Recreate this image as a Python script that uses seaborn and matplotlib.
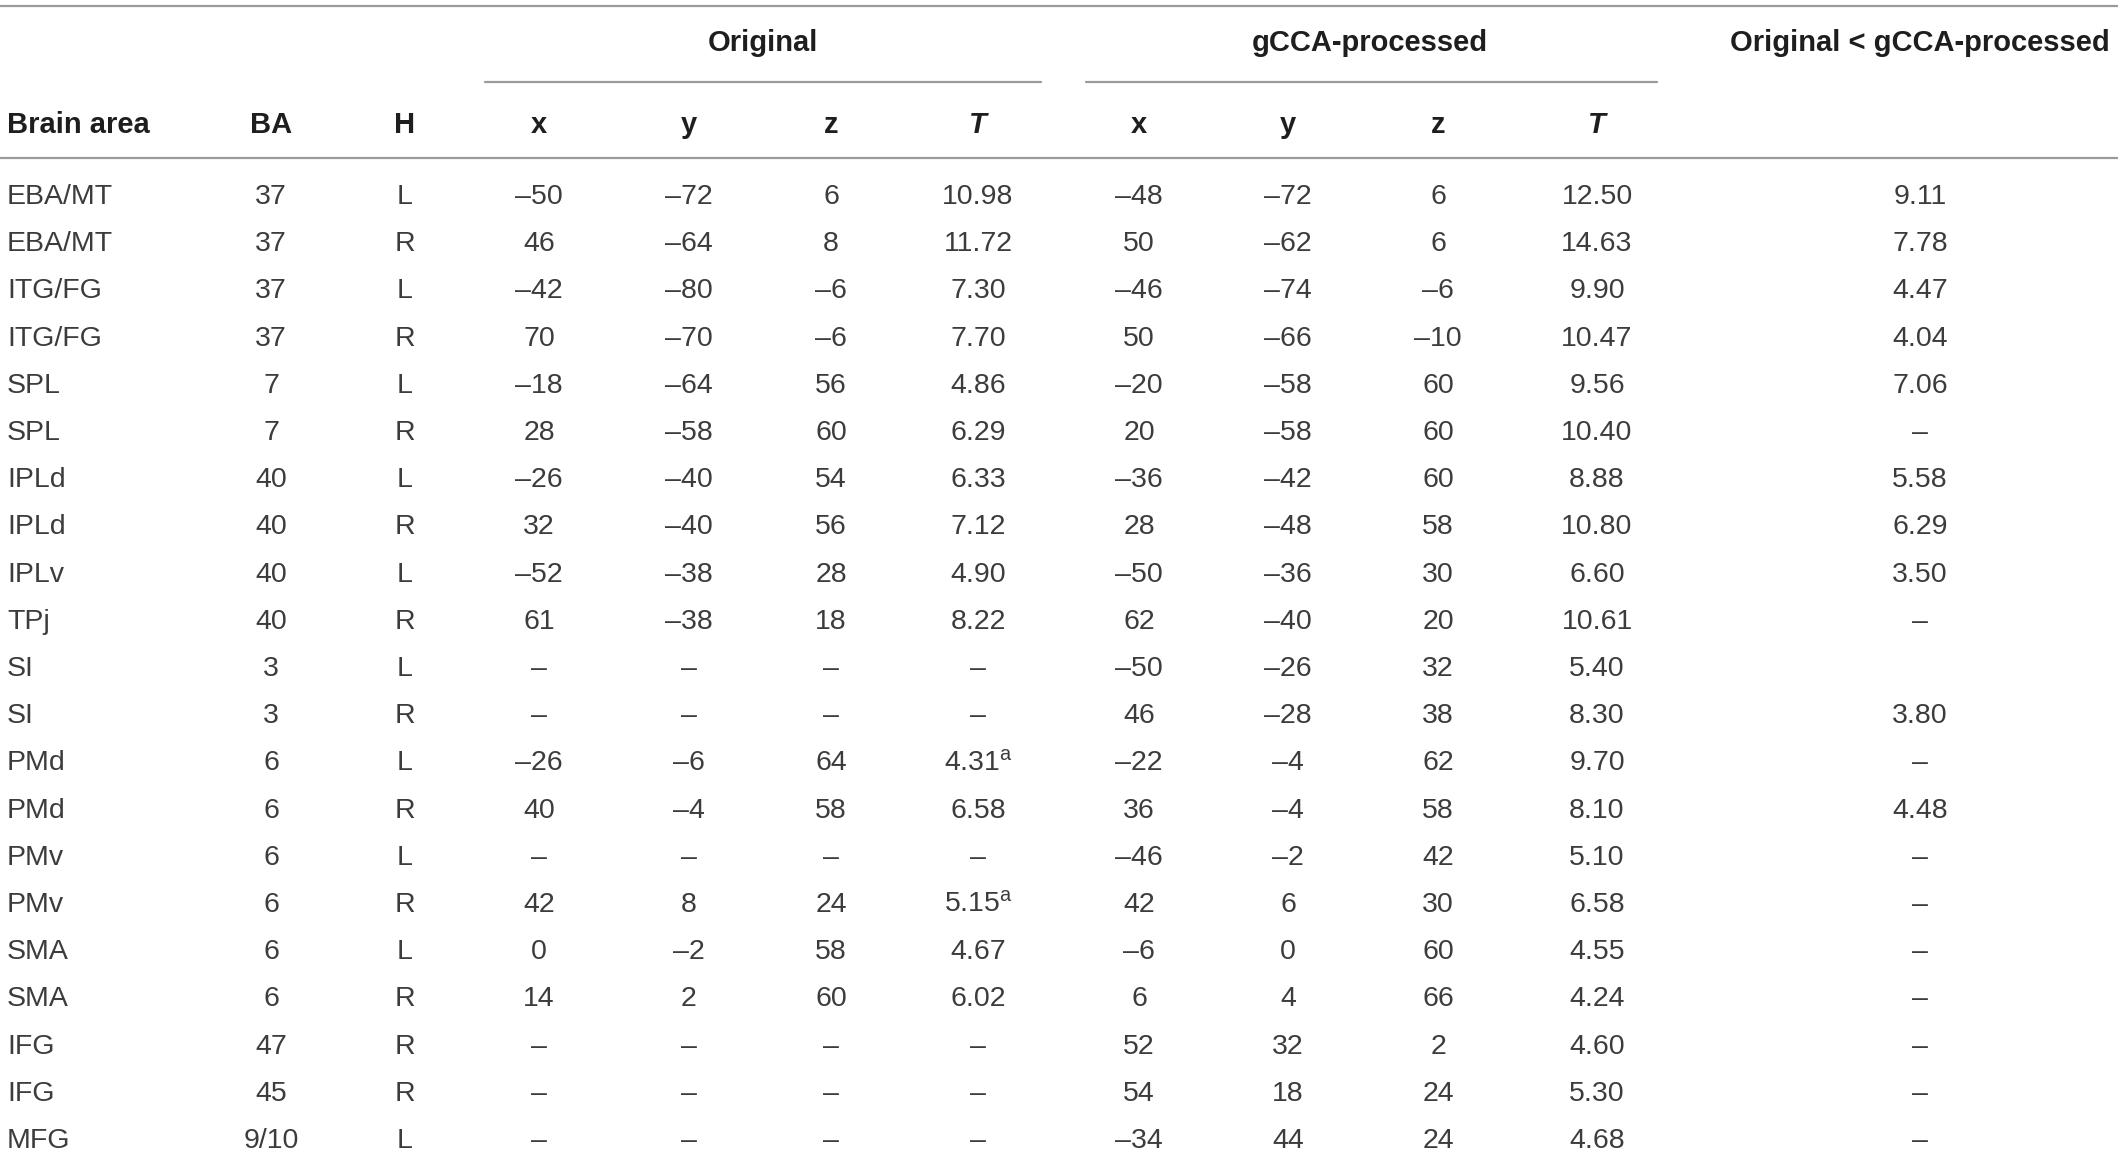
import matplotlib.pyplot as plt
import seaborn as sns

# table content
areas = ["EBA/MT", "EBA/MT", "ITG/FG", "ITG/FG", "SPL", "SPL", "IPLd", "IPLd", "IPLv", "TPj",
         "SI", "SI", "PMd", "PMd", "PMv", "PMv", "SMA", "SMA", "IFG", "IFG", "MFG"]
ba = ["37", "37", "37", "37", "7", "7", "40", "40", "40", "40",
      "3", "3", "6", "6", "6", "6", "6", "6", "47", "45", "9/10"]
hemi = ["L", "R", "L", "R", "L", "R", "L", "R", "L", "R",
        "L", "R", "L", "R", "L", "R", "L", "R", "R", "R", "L"]

orig_x = [-50, 46, -42, 70, -18, 28, -26, 32, -52, 61, None, None, -26, 40, None, 42, 0, 14, None, None, None]
orig_y = [-72, -64, -80, -70, -64, -58, -40, -40, -38, -38, None, None, -6, -4, None, 8, -2, 2, None, None, None]
orig_z = [6, 8, -6, -6, 56, 60, 54, 56, 28, 18, None, None, 64, 58, None, 24, 58, 60, None, None, None]
orig_t = [10.98, 11.72, 7.30, 7.70, 4.86, 6.29, 6.33, 7.12, 4.90, 8.22, None, None, 4.31, 6.58, None, 5.15,
          4.67, 6.02, None, None, None]
orig_t_note = [12, 15]  # rows carrying superscript a

gcca_x = [-48, 50, -46, 50, -20, 20, -36, 28, -50, 62, -50, 46, -22, 36, -46, 42, -6, 6, 52, 54, -34]
gcca_y = [-72, -62, -74, -66, -58, -58, -42, -48, -36, -40, -26, -28, -4, -4, -2, 6, 0, 4, 32, 18, 44]
gcca_z = [6, 6, -6, -10, 60, 60, 60, 58, 30, 20, 32, 38, 62, 58, 42, 30, 60, 66, 2, 24, 24]
gcca_t = [12.50, 14.63, 9.90, 10.47, 9.56, 10.40, 8.88, 10.80, 6.60, 10.61, 5.40, 8.30, 9.70, 8.10, 5.10,
          6.58, 4.55, 4.24, 4.60, 5.30, 4.68]

# "" = blank cell, None = dash
contrast_t = [9.11, 7.78, 4.47, 4.04, 7.06, None, 5.58, 6.29, 3.50, None, "", 3.80, None, 4.48, None,
              None, None, None, None, None, None]

DASH = "\u2013"


def fmt_int(v):
    if v is None:
        return DASH
    return f"{DASH}{abs(v)}" if v < 0 else str(v)


def fmt_t(v):
    if v is None:
        return DASH
    if v == "":
        return ""
    return f"{v:.2f}"


sns.set_theme(style="white")
plt.rcParams['font.family'] = ['Liberation Sans', 'DejaVu Sans']
plt.rcParams['mathtext.fontset'] = 'custom'
plt.rcParams['mathtext.rm'] = 'Liberation Sans'
plt.rcParams['mathtext.it'] = 'Liberation Sans:italic'

W, H = 2118, 1156
fig = plt.figure(figsize=(W / 100, H / 100), dpi=100)
ax = fig.add_axes([0, 0, 1, 1])
ax.set_xlim(0, W)
ax.set_ylim(H, 0)
ax.axis('off')

fs = 20.5
fs_head = 21
body_color = "#3c3c3c"
head_color = "#1e1e1e"
line_color = "#9a9a9a"

col_x = [7, 271, 405, 539, 689, 831, 978, 1139, 1288, 1438, 1597, 1920]
row0, row_step = 194, 47.2
cap_half = 10

# rules
ax.plot([0, W], [6, 6], color=line_color, lw=1.6)
ax.plot([485, 1041], [82, 82], color=line_color, lw=1.6)
ax.plot([1086, 1657], [82, 82], color=line_color, lw=1.6)
ax.plot([0, W], [158, 158], color=line_color, lw=1.6)

# group headers
for label, cx in [("Original", 763), ("gCCA-processed", 1370), ("Original < gCCA-processed", 1920)]:
    ax.text(cx, 41 + cap_half, label, ha='center', va='baseline', fontsize=fs_head,
            fontweight='bold', color=head_color)

# column headers
heads = ["Brain area", "BA", "H", "x", "y", "z", "T", "x", "y", "z", "T"]
for i, h in enumerate(heads):
    style = 'italic' if h == "T" else 'normal'
    ax.text(col_x[i], 123 + cap_half, h, ha='left' if i == 0 else 'center', va='baseline',
            fontsize=fs_head, fontweight='bold', fontstyle=style, color=head_color)

columns = [
    areas, ba, hemi,
    [fmt_int(v) for v in orig_x], [fmt_int(v) for v in orig_y], [fmt_int(v) for v in orig_z],
    [fmt_t(v) for v in orig_t],
    [fmt_int(v) for v in gcca_x], [fmt_int(v) for v in gcca_y], [fmt_int(v) for v in gcca_z],
    [fmt_t(v) for v in gcca_t],
    [fmt_t(v) for v in contrast_t],
]

for ci, col in enumerate(columns):
    for ri, val in enumerate(col):
        y = row0 + ri * row_step + cap_half
        txt = val
        if ci == 6 and ri in orig_t_note:
            txt = val + r"$^{\mathrm{a}}$"
        ax.text(col_x[ci], y, txt, ha='left' if ci == 0 else 'center', va='baseline',
                fontsize=fs, color=body_color)

fig.savefig("out.png", dpi=100)
